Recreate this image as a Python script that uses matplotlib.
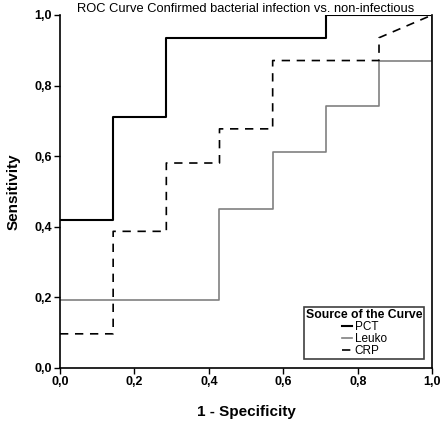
import numpy as np
from matplotlib import pyplot as plt

plt.rcParams['font.family'] = ['Liberation Sans', 'DejaVu Sans']

# ROC step points (1 - specificity, sensitivity)
pct_x = [0, 1/7, 1/7, 2/7, 2/7, 5/7, 5/7, 1]
pct_y = [13/31, 13/31, 22/31, 22/31, 29/31, 29/31, 1, 1]

leuko_x = [0, 3/7, 3/7, 4/7, 4/7, 5/7, 5/7, 6/7, 6/7, 1, 1]
leuko_y = [6/31, 6/31, 14/31, 14/31, 19/31, 19/31, 23/31, 23/31, 27/31, 27/31, 1]

crp_x = [0, 1/7, 1/7, 2/7, 2/7, 3/7, 3/7, 4/7, 4/7, 6/7, 6/7, 1]
crp_y = [3/31, 3/31, 12/31, 12/31, 18/31, 18/31, 21/31, 21/31, 27/31, 27/31, 29/31, 1]

ticks = [0.0, 0.2, 0.4, 0.6, 0.8, 1.0]
tick_labels = ['0,0', '0,2', '0,4', '0,6', '0,8', '1,0']

fig = plt.figure(figsize=(4.41, 4.22), dpi=100)
ax = fig.add_axes([0.136, 0.128, 0.844, 0.8365])

ax.plot(pct_x, pct_y, color='black', lw=1.5, label='PCT')
ax.plot(leuko_x, leuko_y, color='#808080', lw=1.2, label='Leuko')
ax.plot(crp_x, crp_y, color='black', lw=1.2, ls=(0, (5, 4)), label='CRP')

ax.set_xlim(0, 1)
ax.set_ylim(0, 1)
ax.set_xticks(ticks)
ax.set_xticklabels(tick_labels, fontweight='bold', fontsize=9)
ax.set_yticks(ticks)
ax.set_yticklabels(tick_labels, fontweight='bold', fontsize=9)
ax.tick_params(length=4, width=1, direction='out', pad=2)
ax.spines['top'].set_visible(False)
for s in ['left', 'bottom', 'right']:
    ax.spines[s].set_linewidth(1.2)

ax.set_xlabel('1 - Specificity', fontweight='bold', fontsize=11, labelpad=12)
ax.set_ylabel('Sensitivity', fontweight='bold', fontsize=11, labelpad=10)
ax.set_title('ROC Curve Confirmed bacterial infection vs. non-infectious',
             fontsize=9.3, pad=2)

leg = ax.legend(loc='lower right', bbox_to_anchor=(0.995, 0.008),
                title='Source of the Curve', fontsize=8.5,
                title_fontproperties={'weight': 'bold', 'size': 8.8},
                handlelength=0.9, handletextpad=0.2, labelspacing=0.02,
                borderpad=0.15, fancybox=False, framealpha=1,
                edgecolor='#404040', alignment='center')
leg.get_frame().set_linewidth(1.2)

plt.savefig('out.png', dpi=100)
